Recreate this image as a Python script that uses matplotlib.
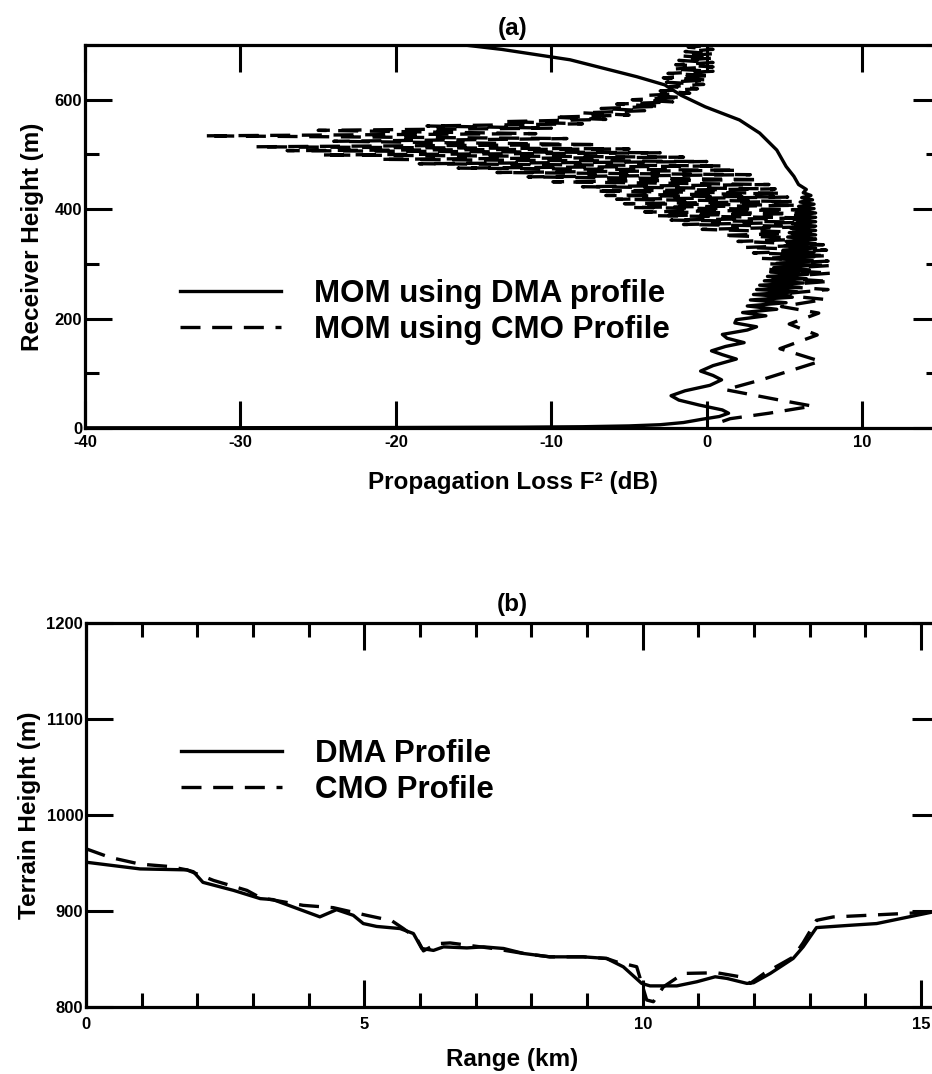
import matplotlib
matplotlib.use("Agg")
import matplotlib.pyplot as plt
import matplotlib.ticker as tck

plt.rcParams['font.family'] = ['Liberation Sans', 'DejaVu Sans']
plt.rcParams['font.weight'] = 'bold'
plt.rcParams['axes.labelweight'] = 'bold'
plt.rcParams['axes.unicode_minus'] = False

# ---------------------------------------------------------------------------
# (a) propagation loss F^2 (dB) versus receiver height (m)
# ---------------------------------------------------------------------------
dma_loss = [-40, -30, -20, -12, -8, -5, -3, -1.5, -0.3, 0.8, 1.4, 1.0, -0.5, -1.8, -2.3,
            -1.4, 0.2, 0.95, 0.4, -0.4, 0.4, 1.9, 1.0, 0.3, 1.2, 2.4, 1.3, 1.0, 2.6, 3.2,
            1.8, 1.9, 3.8, 2.3, 4.5, 2.6, 5.1, 2.8, 5.5, 3.0, 5.8, 3.2, 6.0, 3.4, 6.2,
            3.7, 6.4, 3.9, 6.5, 4.1, 6.6, 4.3, 6.7, 4.5, 6.8, 4.7, 6.9, 4.8, 6.9, 4.9,
            7.0, 5.0, 7.0, 5.1, 7.0, 5.2, 7.0, 5.3, 7.0, 5.4, 7.0, 5.5, 7.0, 5.6, 7.0,
            5.7, 7.0, 5.8, 6.9, 5.9, 6.9, 6.0, 6.8, 6.1, 6.7, 6.2, 6.4, 5.9, 5.6, 5.1,
            4.5, 3.4, 2.1, -0.1, -1.65, -2.7, -4.5, -8.8, -13.2, -16.5]
dma_height = [0.3, 0.5, 0.9, 1.5, 2.3, 3.8, 6, 10, 16, 21, 27, 33, 42, 51, 59,
              68, 78, 88, 96, 104, 114, 126, 134, 141, 149, 156, 164, 171, 179, 185,
              192, 198, 205, 211, 217, 223, 229, 234, 239, 244, 249, 253, 257, 261, 265,
              269, 273, 277, 281, 285, 289, 293, 297, 301, 305, 309, 313, 317, 321, 325,
              329, 333, 337, 341, 345, 349, 353, 357, 361, 365, 369, 373, 377, 381, 385,
              389, 393, 397, 401, 405, 409, 413, 417, 421, 425, 430, 436, 445, 460, 478,
              508, 539, 563, 587, 608, 627, 642, 673, 692, 703]

cmo_loss = [1.0, 1.5, 4.0, 6.8, 4.5, 1.2, 3.5, 7.3, 4.7, 7.1, 5.3, 7.2, 4.8, 7.6, 4.4,
            7.8, 4.2, 7.9, 4.0, 8.0, 3.9, 8.0,
            4.0, 7.8, 3.5, 7.8, 3.0, 7.7, 2.5, 7.5, 2.0, 7.3, 1.0, 7.1, -0.3, 6.9,
            -1.5, 6.7, -2.3, 6.5, -3.2, 6.3, -4.0, 6.1, -4.8, 5.8, -5.3, 5.5, -5.8, 5.2,
            -6.5, 4.8, -7.2, 4.4, -8.0, 4.0, -9.9, 3.4, -11.5, 2.8, -13.5, 2.0, -16, 1.0,
            -18.5, 0, -21, -1.5, -24.8, -3, -27, -5, -29, -7, -24, -9, -32.3, -11,
            -25, -10, -18, -8, -13, -6.5, -9.9, -5, -8.0, -4, -6.8, -3, -5.8, -2.2,
            -4.8, -1.6, -3.8, -1.1, -3.0, -0.6, -2.4, -0.2, -2.6, 0.1, -2.8, 0.3,
            -2.5, 0.4, -2.2, 0.4, -2.0, 0.4, -1.8, 0.4, -1.6, 0.4, -1.4, 0.4, -1.2, 0.4]
cmo_height = [12, 17, 27, 40, 52, 70, 88, 122, 145, 170, 190, 210, 222, 235, 244,
              253, 260, 268, 275, 283, 290, 297,
              300, 305, 310, 315, 320, 325, 330, 335, 341, 346, 352, 357, 363, 368,
              372, 376, 380, 384, 388, 392, 395, 399, 403, 407, 410, 414, 418, 422,
              425, 429, 433, 437, 441, 445, 450, 454, 459, 463, 467, 471, 475, 479,
              483, 487, 491, 495, 499, 503, 507, 510, 514, 518, 524, 529, 534, 538,
              544, 548, 552, 556, 560, 564, 568, 572, 576, 580, 584, 588, 592, 596,
              600, 604, 608, 612, 616, 620, 624, 628, 632, 636, 640, 644,
              648, 652, 656, 660, 664, 668, 672, 676, 680, 684, 688, 692, 696, 700]

# ---------------------------------------------------------------------------
# (b) terrain height (m) along the path range (km)
# ---------------------------------------------------------------------------
dma_range = [0.0, 0.97, 1.81, 1.93, 2.1, 2.65, 3.13, 3.36, 4.2, 4.5, 4.8, 4.98, 5.22,
             5.64, 5.88, 6.03, 6.24, 6.42, 6.84, 7.14, 7.5, 7.86, 8.33, 8.93, 9.35,
             9.65, 9.98, 10.13, 10.61, 10.97, 11.3, 11.51, 11.87, 11.99, 12.29, 12.7,
             12.88, 13.12, 13.72, 14.2, 15.2, 15.4]
dma_terrain = [951, 944, 943, 941, 930, 921.6, 913, 912, 894, 901.5, 895.6, 887, 884,
               881.8, 876.6, 861, 859, 862.7, 861.6, 862.7, 861, 855.8, 852.3, 852.3,
               850.6, 841.9, 824.6, 822, 822, 826.3, 831.5, 829.8, 824.6, 825.3, 835,
               850.6, 862.7, 882.8, 885.2, 887, 899, 900]

cmo_range = [0.0, 0.43, 0.97, 1.5, 1.81, 2.29, 2.89, 3.13, 3.9, 4.44, 5.04, 5.49, 5.7,
             5.94, 6.06, 6.3, 6.54, 7.31, 7.86, 8.33, 8.93, 9.35, 9.53, 9.89, 10.07,
             10.19, 10.37, 10.73, 11.33, 11.75, 11.93, 12.18, 12.7, 12.88, 13.12, 13.42,
             14.0, 15.2, 15.4]
cmo_terrain = [965, 956, 949, 946.5, 943, 932, 921.6, 914, 906, 903.6, 895.6, 890, 881.8,
               871.4, 858.5, 866, 866.8, 861, 855.8, 852.3, 852.3, 850.6, 847, 842, 807.3,
               805.5, 821, 835, 835.7, 831.5, 824.6, 835, 852, 867, 890.4, 893.9,
               895.5, 899, 900]

LW = 2.4
DASH = (0, (6, 3.5))
LABEL_FS = 17.5
LEGEND_FS = 22.5


def style_axes(ax):
    for sp in ax.spines.values():
        sp.set_linewidth(2.3)
    ax.tick_params(which='both', direction='in', top=True, right=True,
                   width=2.2, labelsize=12)
    ax.tick_params(which='major', length=19.5)
    ax.tick_params(which='minor', length=10)
    ax.tick_params(axis='y', pad=2)


def add_legend(ax, y_center):
    ax.legend(loc='center left', bbox_to_anchor=(0.111, y_center), frameon=False,
              fontsize=LEGEND_FS, handlelength=3.25, handletextpad=1.05,
              labelspacing=0.18, borderpad=0, borderaxespad=0)


fig = plt.figure(figsize=(9.32, 10.74), dpi=100)

# ---- panel (a)
ax1 = fig.add_axes([0.0912, 0.6015, 0.9174, 0.3566])
ax1.plot(dma_loss, dma_height, color='black', lw=LW, label='MOM using DMA profile')
ax1.plot(cmo_loss, cmo_height, color='black', lw=LW, ls=DASH, label='MOM using CMO Profile')
ax1.set_xlim(-40, 15)
ax1.set_ylim(0, 700)
ax1.xaxis.set_major_locator(tck.MultipleLocator(10))
ax1.yaxis.set_major_locator(tck.MultipleLocator(200))
ax1.yaxis.set_minor_locator(tck.MultipleLocator(100))
style_axes(ax1)
ax1.tick_params(axis='x', pad=5)
ax1.set_title('(a)', fontsize=LABEL_FS, fontweight='bold', pad=7)
ax1.set_xlabel('Propagation Loss F² (dB)', fontsize=LABEL_FS, labelpad=15)
ax1.set_ylabel('Receiver Height (m)', fontsize=LABEL_FS, labelpad=8)
add_legend(ax1, 0.303)

# ---- panel (b)
ax2 = fig.add_axes([0.0923, 0.0624, 0.9152, 0.3571])
ax2.plot(dma_range, dma_terrain, color='black', lw=LW, label='DMA Profile')
ax2.plot(cmo_range, cmo_terrain, color='black', lw=LW, ls=DASH, label='CMO Profile')
ax2.set_xlim(0, 15.32)
ax2.set_ylim(800, 1200)
ax2.xaxis.set_major_locator(tck.MultipleLocator(5))
ax2.xaxis.set_minor_locator(tck.MultipleLocator(1))
ax2.yaxis.set_major_locator(tck.MultipleLocator(100))
style_axes(ax2)
ax2.tick_params(axis='x', pad=7)
ax2.set_title('(b)', fontsize=LABEL_FS, fontweight='bold', pad=9)
ax2.set_xlabel('Range (km)', fontsize=LABEL_FS, labelpad=12)
ax2.set_ylabel('Terrain Height (m)', fontsize=LABEL_FS, labelpad=4)
add_legend(ax2, 0.613)

fig.savefig('out.png', dpi=100)
